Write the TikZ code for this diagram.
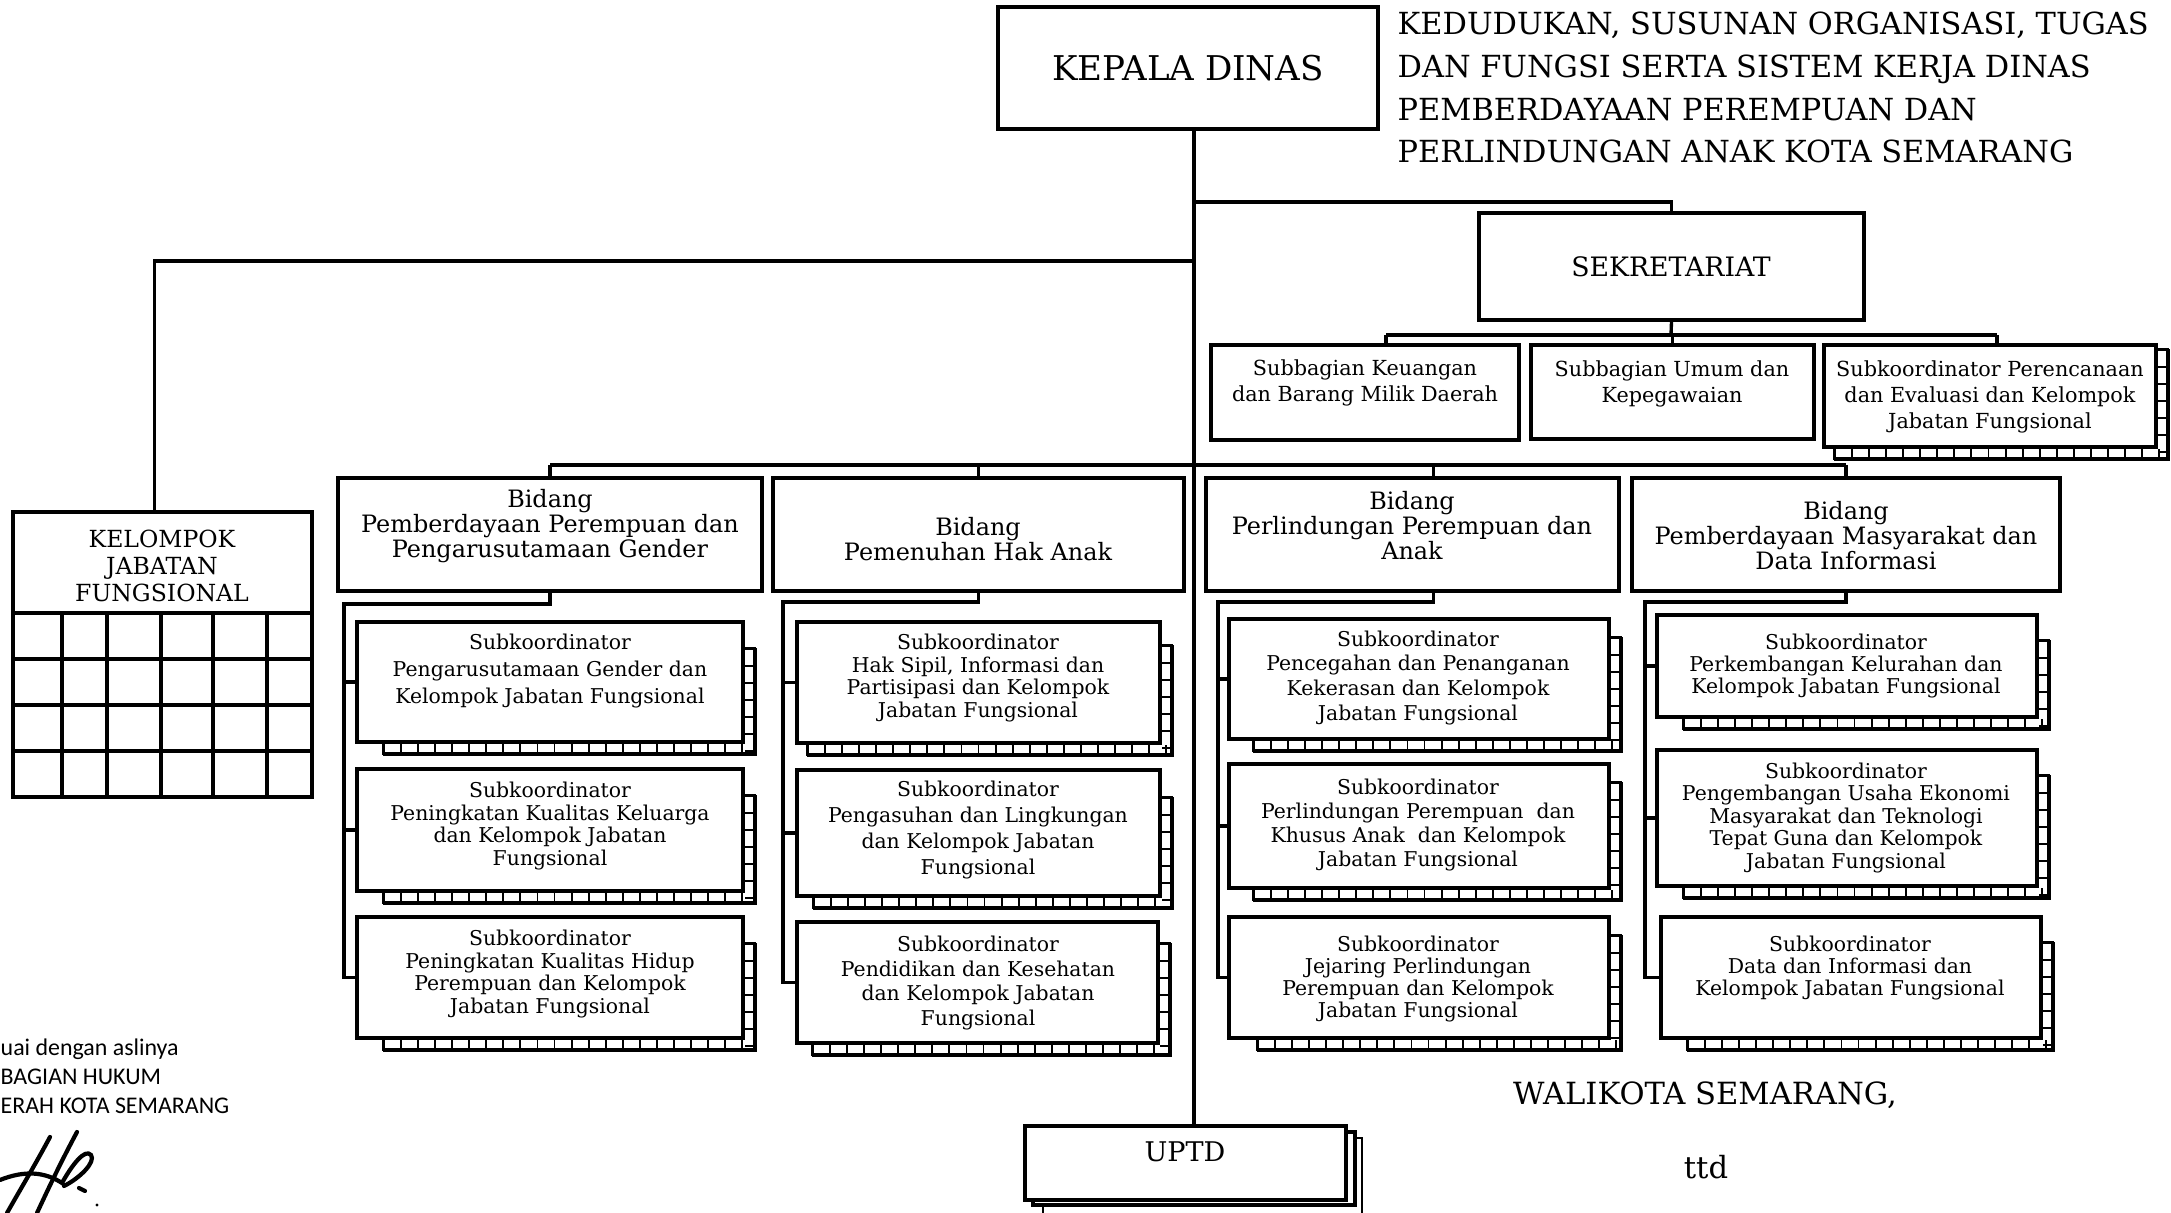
\documentclass[tikz,border=0pt]{standalone}
\usepackage{fontspec}
\setmainfont{DejaVu Serif}
\newfontfamily\calib{Carlito}
\usetikzlibrary{fit}
\newcommand\fz[2]{\fontsize{#1}{#2}\selectfont}
\tikzset{
  box/.style={draw, line width=1pt, fill=white, inner sep=0pt},
  conn/.style={line width=0.95pt},
  txt/.style={align=center, inner sep=0pt},
  tickband/.style={line width=2.3pt, dash pattern=on 0.55pt off 4.3pt},
  sig/.style={line width=1.2pt, line cap=round},
}
\newcommand\stackbox[7]{%
  \fill[white] (#2+#6,#3+#7) rectangle (#4+12,#5+12);
  \draw[line width=0.6pt] (#2+#6,#3+#7) rectangle (#4+12,#5+12);
  \draw[line width=1.4pt] (#2+#6,#5+12) -- (#4+12,#5+12) -- (#4+12,#3+#7);
  \draw[tickband] (#2+#6,#5+6) -- (#4+12,#5+6);
  \draw[tickband] (#4+6,#3+#7) -- (#4+6,#5+12);
  \node[box, fit={(#2,#3) (#4,#5)}] (#1) {};
}
\begin{document}
\begin{tikzpicture}[x=0.01cm, y=-0.01cm]
\useasboundingbox (0,0) rectangle (2171,1213);

% ---------- top ----------
\node[box, fit={(998,7) (1378,129)}] (kd) {};
\node[txt, font=\fz{9.7}{12}] (kdt) at (1188,68) {KEPALA DINAS};
\node[anchor=north west, align=left, inner sep=0pt, font=\fz{8.65}{12.2}] (title) at (1397,11)
  {KEDUDUKAN, SUSUNAN ORGANISASI, TUGAS\\ DAN FUNGSI SERTA SISTEM KERJA DINAS\\ PEMBERDAYAAN PEREMPUAN DAN\\ PERLINDUNGAN ANAK KOTA SEMARANG};

\node[box, fit={(1479,213) (1864,320)}] (sek) {};
\node[txt, font=\fz{7.6}{9}] (sekt) at (1671,267) {SEKRETARIAT};

\node[box, fit={(1211,345) (1519,440)}] (sb1) {};
\node[txt, font=\fz{5.9}{7.5}] at (1365,383) {Subbagian Keuangan\\ dan Barang Milik Daerah};
\node[box, fit={(1531,345) (1814,439)}] (sb2) {};
\node[txt, font=\fz{5.9}{7.5}] at (1672,384) {Subbagian Umum dan\\ Kepegawaian};
\stackbox{sb3}{1824}{345}{2156}{447}{10}{4}
\node[txt, font=\fz{5.9}{7.5}] at (1990,397) {Subkoordinator Perencanaan\\ dan Evaluasi dan Kelompok\\ Jabatan Fungsional};

% ---------- kelompok jabatan fungsional ----------
\node[box, fit={(13,512) (312,797)}] (kjf) {};
\draw[line width=1pt] (13,613) -- (312,613);
\foreach \yy in {659,705,751} \draw[line width=1pt] (13,\yy) -- (312,\yy);
\foreach \xx in {62,107,161,213,267} \draw[line width=1pt] (\xx,613) -- (\xx,797);
\node[txt, font=\fz{6.7}{7.7}] at (162,566) {KELOMPOK\\ JABATAN\\ FUNGSIONAL};

% ---------- bidang ----------
\node[box, fit={(338,478) (762,591)}] (b1) {};
\node[txt, font=\fz{6.8}{7.1}] at (550,526) {Bidang\\ Pemberdayaan Perempuan dan\\ Pengarusutamaan Gender};
\node[box, fit={(773,478) (1184,591)}] (b2) {};
\node[txt, font=\fz{6.8}{7.1}] at (978,539) {Bidang\\ Pemenuhan Hak Anak};
\node[box, fit={(1206,478) (1619,591)}] (b3) {};
\node[txt, font=\fz{6.8}{7.1}] at (1412,526) {Bidang\\ Perlindungan Perempuan dan\\ Anak};
\node[box, fit={(1632,478) (2060,591)}] (b4) {};
\node[txt, font=\fz{6.8}{7.1}] at (1846,536) {Bidang\\ Pemberdayaan Masyarakat dan\\ Data Informasi};

% ---------- column 1 ----------
\stackbox{s1a}{357}{622}{743}{742}{26}{26}
\node[txt, font=\fz{5.8}{7.7}] at (550,671) {Subkoordinator\\ Pengarusutamaan Gender dan\\ Kelompok Jabatan Fungsional};
\stackbox{s1b}{357}{769}{743}{891}{26}{26}
\node[txt, font=\fz{5.8}{6.4}] at (550,826) {Subkoordinator\\ Peningkatan Kualitas Keluarga\\ dan Kelompok Jabatan\\ Fungsional};
\stackbox{s1c}{357}{917}{743}{1038}{26}{26}
\node[txt, font=\fz{5.8}{6.5}] at (550,974) {Subkoordinator\\ Peningkatan Kualitas Hidup\\ Perempuan dan Kelompok\\ Jabatan Fungsional};

% ---------- column 2 ----------
\stackbox{s2a}{797}{622}{1160}{743}{10}{23}
\node[txt, font=\fz{5.8}{6.5}] at (978,678) {Subkoordinator\\ Hak Sipil, Informasi dan\\ Partisipasi dan Kelompok\\ Jabatan Fungsional};
\stackbox{s2b}{797}{770}{1160}{896}{16}{27}
\node[txt, font=\fz{5.8}{7.4}] at (978,830) {Subkoordinator\\ Pengasuhan dan Lingkungan\\ dan Kelompok Jabatan\\ Fungsional};
\stackbox{s2c}{797}{922}{1158}{1043}{15}{21}
\node[txt, font=\fz{5.8}{7.0}] at (978,983) {Subkoordinator\\ Pendidikan dan Kesehatan\\ dan Kelompok Jabatan\\ Fungsional};

% ---------- column 3 ----------
\stackbox{s3a}{1229}{619}{1609}{739}{24}{18}
\node[txt, font=\fz{5.8}{7.1}] at (1418,678) {Subkoordinator\\ Pencegahan dan Penanganan\\ Kekerasan dan Kelompok\\ Jabatan Fungsional};
\stackbox{s3b}{1229}{764}{1609}{888}{24}{18}
\node[txt, font=\fz{5.8}{6.9}] at (1418,825) {Subkoordinator\\ Perlindungan Perempuan\ \ dan\\ Khusus Anak\ \ dan Kelompok\\ Jabatan Fungsional};
\stackbox{s3c}{1229}{917}{1609}{1038}{28}{18}
\node[txt, font=\fz{5.8}{6.3}] at (1418,979) {Subkoordinator\\ Jejaring Perlindungan\\ Perempuan dan Kelompok\\ Jabatan Fungsional};

% ---------- column 4 ----------
\stackbox{s4a}{1657}{615}{2037}{717}{26}{25}
\node[txt, font=\fz{5.8}{6.3}] at (1846,666) {Subkoordinator\\ Perkembangan Kelurahan dan\\ Kelompok Jabatan Fungsional};
\stackbox{s4b}{1657}{750}{2037}{886}{26}{25}
\node[txt, font=\fz{5.8}{6.4}] at (1846,818) {Subkoordinator\\ Pengembangan Usaha Ekonomi\\ Masyarakat dan Teknologi\\ Tepat Guna dan Kelompok\\ Jabatan Fungsional};
\stackbox{s4c}{1661}{917}{2041}{1038}{26}{25}
\node[txt, font=\fz{5.8}{6.3}] at (1850,968) {Subkoordinator\\ Data dan Informasi dan\\ Kelompok Jabatan Fungsional};

% ---------- UPTD ----------
\draw[line width=0.6pt, fill=white] (1043,1138) rectangle (1362,1230);
\draw[line width=1.1pt, fill=white] (1033,1132) rectangle (1355,1205);
\node[box, fit={(1025,1126) (1346,1200)}] (uptd) {};
\node[txt, font=\fz{7.7}{9}] at (1185,1152) {UPTD};

% ---------- connectors ----------
\coordinate (m) at (1194,0);
\coordinate (j1) at (1194,202);
\coordinate (j2) at (1194,261);
\coordinate (j3) at (1671,335);
\coordinate (j4) at (1194,465);
\draw[conn] (kd.south -| m) -- (uptd.north -| m);
\draw[conn] (j1) -| (sek.north);
\draw[conn] (j2) -| ([xshift=-0.08cm]kjf.north);
\draw[conn] (sek.south) -- (j3);
\draw[conn] ([xshift=0.21cm]sb1.north |- j3) -- ([xshift=0.07cm]sb3.north |- j3);
\draw[conn] ([xshift=0.21cm]sb1.north |- j3) -- ([xshift=0.21cm]sb1.north);
\draw[conn] (sb2.north |- j3) -- (sb2.north);
\draw[conn] ([xshift=0.07cm]sb3.north |- j3) -- ([xshift=0.07cm]sb3.north);
\draw[conn] (b1.north |- j4) -- (b4.north |- j4);
\draw[conn] (b1.north |- j4) -- (b1.north);
\draw[conn] (b2.north |- j4) -- (b2.north);
\draw[conn] ([xshift=0.21cm]b3.north |- j4) -- ([xshift=0.21cm]b3.north);
\draw[conn] (b4.north |- j4) -- (b4.north);

\coordinate (c1) at (344,604);
\draw[conn] (b1.south) |- (c1) -- (c1 |- s1c.west) -- (s1c.west);
\draw[conn] (c1 |- s1a.west) -- (s1a.west);
\draw[conn] (c1 |- s1b.west) -- (s1b.west);
\coordinate (c2) at (783,602);
\draw[conn] (b2.south) |- (c2) -- (c2 |- s2c.west) -- (s2c.west);
\draw[conn] (c2 |- s2a.west) -- (s2a.west);
\draw[conn] (c2 |- s2b.west) -- (s2b.west);
\coordinate (c3) at (1218,602);
\draw[conn] ([xshift=0.21cm]b3.south) |- (c3) -- (c3 |- s3c.west) -- (s3c.west);
\draw[conn] (c3 |- s3a.west) -- (s3a.west);
\draw[conn] (c3 |- s3b.west) -- (s3b.west);
\coordinate (c4) at (1645,602);
\draw[conn] (b4.south) |- (c4) -- (c4 |- s4c.west) -- (s4c.west);
\draw[conn] (c4 |- s4a.west) -- (s4a.west);
\draw[conn] (c4 |- s4b.west) -- (s4b.west);

% ---------- bottom texts ----------
\node[txt, font=\fz{8.7}{10}] (wk) at (1705,1095) {WALIKOTA SEMARANG,};
\node[txt, font=\fz{8.7}{10}] (ttd) at (1706,1167) {ttd};
\node[anchor=west, align=left, inner sep=0pt, font=\calib\fz{6.8}{8.2}] (legal) at (0,1076)
  {uai dengan aslinya\\ BAGIAN HUKUM\\ ERAH KOTA SEMARANG};

% signature
\draw[sig] (50,1137) .. controls (35,1165) and (20,1190) .. (7,1213);
\draw[sig] (77,1132) .. controls (62,1160) and (50,1185) .. (37,1213);
\draw[sig] (0,1180) .. controls (25,1170) and (45,1172) .. (62,1183) .. controls (72,1165) and (85,1148) .. (91,1155) .. controls (96,1162) and (80,1178) .. (64,1186);
\draw[sig] (79,1188) -- (85,1191);
\fill (97,1205) circle (1.6);
\end{tikzpicture}
\end{document}
